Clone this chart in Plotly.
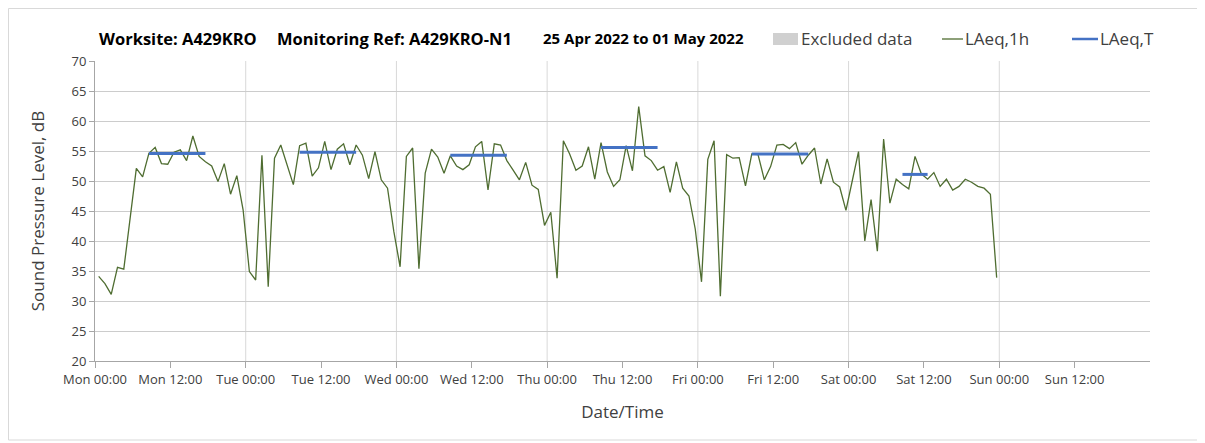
import plotly.graph_objects as go
import pandas as pd

# ---------------- data ----------------
mon = [34.1, 32.9, 31.1, 35.6, 35.3, 43.8, 52.1, 50.7, 54.6, 55.6, 52.9, 52.8,
       54.8, 55.2, 53.4, 57.5, 54.1, 53.2, 52.5, 49.9, 52.9, 47.8, 50.9, 45.2]
tue = [34.9, 33.5, 54.3, 32.4, 53.8, 56.0, 52.7, 49.4, 55.9, 56.3, 50.8, 52.2,
       56.6, 51.9, 55.3, 56.2, 52.7, 56.0, 54.3, 50.4, 54.9, 50.2, 48.8, 41.6]
wed = [35.7, 54.1, 55.5, 35.4, 51.3, 55.3, 54.0, 51.3, 54.2, 52.5, 51.9, 52.7,
       55.7, 56.6, 48.5, 56.2, 56.0, 53.4, 51.8, 50.2, 53.1, 49.3, 48.6, 42.6]
thu = [44.8, 33.8, 56.7, 54.5, 51.8, 52.5, 55.7, 50.3, 56.4, 51.5, 49.1, 50.2,
       55.9, 51.7, 62.4, 54.2, 53.4, 51.8, 52.4, 48.1, 53.2, 48.8, 47.5, 42.0]
fri = [33.2, 53.6, 56.7, 30.8, 54.4, 53.8, 53.9, 49.2, 54.5, 54.4, 50.2, 52.4,
       56.0, 56.1, 55.4, 56.4, 52.8, 54.3, 55.5, 49.5, 53.7, 49.8, 49.0, 45.1]
sat = [50.0, 54.9, 40.0, 46.9, 38.3, 57.0, 46.3, 50.3, 49.4, 48.7, 54.1, 51.2,
       50.3, 51.4, 49.1, 50.3, 48.5, 49.1, 50.3, 49.8, 49.1, 48.8, 47.8, 33.9]
laeq_1h = mon + tue + wed + thu + fri + sat
times_1h = pd.date_range("2022-04-25 00:35", periods=len(laeq_1h), freq="h")

# LAeq,T daytime periods: start, end, level
laeq_t_start = ["2022-04-25 08:35", "2022-04-26 08:35", "2022-04-27 08:35",
                "2022-04-28 08:35", "2022-04-29 08:35", "2022-04-30 08:35"]
laeq_t_end = ["2022-04-25 17:35", "2022-04-26 17:35", "2022-04-27 17:35",
              "2022-04-28 17:35", "2022-04-29 17:35", "2022-04-30 12:35"]
laeq_t = [54.6, 54.8, 54.3, 55.6, 54.5, 51.1]

excluded_periods = []  # none in this week

day_lines = ["2022-04-26", "2022-04-27", "2022-04-28", "2022-04-29",
             "2022-04-30", "2022-05-01"]

x_tickvals = pd.date_range("2022-04-25 00:00", periods=14, freq="12h")
x_ticktext = ["Mon 00:00", "Mon 12:00", "Tue 00:00", "Tue 12:00", "Wed 00:00",
              "Wed 12:00", "Thu 00:00", "Thu 12:00", "Fri 00:00", "Fri 12:00",
              "Sat 00:00", "Sat 12:00", "Sun 00:00", "Sun 12:00"]

title_parts = ["Worksite: A429KRO", "Monitoring Ref: A429KRO-N1",
               "25 Apr 2022 to 01 May 2022"]

# ---------------- figure ----------------
OFF = 8  # page body margin
W, H = 1205, 443
L, T = 95 - OFF, 61 - OFF
R = W - (1150 - OFF)
B = H - (361 - OFF)
PW, PH = W - L - R, H - T - B

def px(x):
    return (x - OFF - L) / PW

def py(y):
    return 1 - (y - OFF - T) / PH

FONT = "Open Sans"
fig = go.Figure()

for d in day_lines:
    fig.add_shape(type="line", x0=d, x1=d, y0=0, y1=1, xref="x", yref="paper",
                  line=dict(color="#d9d9d9", width=1), layer="below")

fig.add_trace(go.Scatter(x=times_1h, y=laeq_1h, mode="lines", name="LAeq,1h",
                         line=dict(color="#4f6d31", width=1.3), showlegend=False))

tx, ty = [], []
for s, e, v in zip(laeq_t_start, laeq_t_end, laeq_t):
    tx += [s, e, None]
    ty += [v, v, None]
fig.add_trace(go.Scatter(x=tx, y=ty, mode="lines", name="LAeq,T",
                         line=dict(color="#4472c4", width=3), showlegend=False))

# title
title_x = [97, 275, 541]
title_sizes = [16.5, 16.5, 15]
for t, x, s in zip(title_parts, title_x, title_sizes):
    fig.add_annotation(text="<b>%s</b>" % t, x=px(x), y=py(38), xref="paper", yref="paper",
                       xanchor="left", yanchor="middle", showarrow=False,
                       font=dict(family=FONT, size=s, color="#000000"))

# legend (manual)
fig.add_shape(type="rect", x0=px(773), x1=px(798), y0=py(33), y1=py(45),
              xref="paper", yref="paper", fillcolor="#d0d0d0", line=dict(width=0))
fig.add_shape(type="line", x0=px(942), x1=px(963), y0=py(39), y1=py(39),
              xref="paper", yref="paper", line=dict(color="#4f6d31", width=1.3))
fig.add_shape(type="line", x0=px(1072), x1=px(1098), y0=py(39), y1=py(39),
              xref="paper", yref="paper", line=dict(color="#4472c4", width=2.5))
for t, x in zip(["Excluded data", "LAeq,1h", "LAeq,T"], [799, 963, 1098]):
    fig.add_annotation(text=t, x=px(x), y=py(38), xref="paper", yref="paper",
                       xanchor="left", yanchor="middle", showarrow=False,
                       font=dict(family=FONT, size=17, color="#404040"))

# outer border
fig.add_shape(type="rect", x0=px(8.5), x1=px(1198), y0=py(8.5), y1=py(440),
              xref="paper", yref="paper", line=dict(color="#d9d9d9", width=1))

fig.update_layout(
    width=W, height=H,
    margin=dict(l=L, r=R, t=T, b=B),
    paper_bgcolor="white", plot_bgcolor="white",
    font=dict(family=FONT, color="#404040"),
)
fig.update_xaxes(
    type="date", range=["2022-04-25 00:00", "2022-05-02 00:00"],
    tickmode="array", tickvals=x_tickvals, ticktext=x_ticktext,
    ticks="outside", ticklen=6, tickcolor="#a6a6a6",
    showgrid=False, showline=True, linecolor="#a6a6a6", linewidth=1,
    tickfont=dict(size=13, color="#404040"),
    title=dict(text="Date/Time", font=dict(size=17, color="#404040"), standoff=19),
    zeroline=False,
)
fig.update_yaxes(
    range=[20, 70], dtick=5, ticks="outside", ticklen=5, tickcolor="#a6a6a6",
    showgrid=True, gridcolor="#cccccc", gridwidth=1,
    showline=True, linecolor="#a6a6a6", linewidth=1,
    tickfont=dict(size=13, color="#404040"),
    title=dict(text="Sound Pressure Level, dB", font=dict(size=17, color="#404040"), standoff=22),
    zeroline=False,
)

fig.write_html("out.html")
